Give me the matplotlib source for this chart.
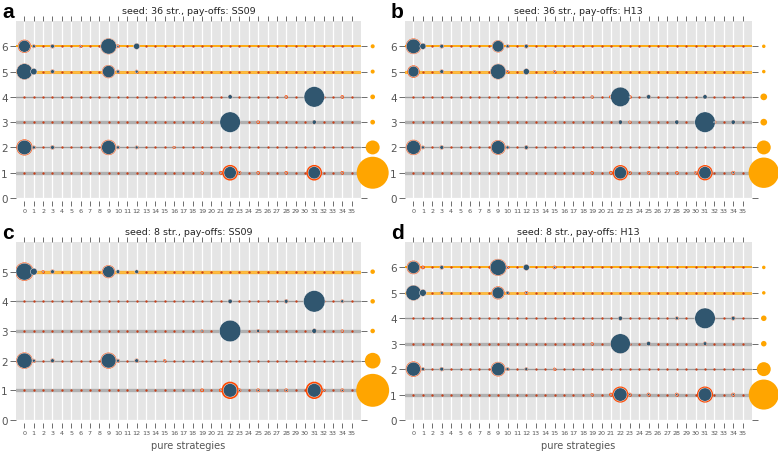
import numpy as np
import matplotlib.pyplot as plt

strategies = list(range(36))

# panel a: seed 36 strategies, SS09
a_title = "seed: 36 str., pay-offs: SS09"
a_orange_rows = [5, 6]
a_line_w = [2.4, 1.0, 2.4, 1.0, 2.2, 1.3]          # rows 1..6
a_right = [1.0, 0.19, 0.022, 0.022, 0.016, 0.016]  # rows 1..6
a_row = [6, 6, 6, 6, 6, 6, 6,
         5, 5, 5, 5, 5, 5,
         4, 4, 4, 4,
         3, 3, 3, 3,
         2, 2, 2, 2, 2, 2, 2,
         1, 1, 1, 1, 1, 1, 1, 1]
a_str = [0, 1, 3, 6, 9, 10, 12,
         0, 1, 3, 9, 10, 12,
         22, 28, 31, 34,
         19, 22, 25, 31,
         0, 1, 3, 9, 10, 12, 16,
         19, 21, 22, 23, 25, 28, 31, 34]
a_blue = [0.30, 0.02, 0.03, 0.005, 0.52, 0.01, 0.08,
          0.54, 0.09, 0.03, 0.32, 0.02, 0.02,
          0.04, 0.005, 0.91, 0.005,
          0.005, 0.91, 0.005, 0.04,
          0.45, 0.02, 0.03, 0.42, 0.02, 0.02, 0.005,
          0.005, 0.005, 0.33, 0.01, 0.005, 0.005, 0.33, 0.005]
a_red = [0.38, 0.03, 0.04, 0.02, 0.56, 0.03, 0.08,
         0.56, 0.08, 0.04, 0.38, 0.03, 0.03,
         0.04, 0.025, 0.80, 0.025,
         0.02, 0.80, 0.025, 0.04,
         0.56, 0.03, 0.04, 0.51, 0.03, 0.03, 0.02,
         0.02, 0.03, 0.53, 0.03, 0.025, 0.025, 0.53, 0.025]

# panel b: seed 36 strategies, H13
b_title = "seed: 36 str., pay-offs: H13"
b_orange_rows = [5, 6]
b_line_w = [2.4, 1.0, 2.4, 1.0, 2.2, 1.3]
b_right = [0.9, 0.19, 0.044, 0.044, 0.012, 0.012]
b_row = [6, 6, 6, 6, 6, 6,
         5, 5, 5, 5, 5, 5,
         4, 4, 4, 4, 4, 4,
         3, 3, 3, 3, 3, 3,
         2, 2, 2, 2, 2, 2,
         1, 1, 1, 1, 1, 1, 1, 1, 1]
b_str = [0, 1, 3, 9, 10, 12,
         0, 3, 9, 10, 12, 15,
         19, 21, 22, 23, 25, 31,
         22, 23, 28, 31, 32, 34,
         0, 1, 3, 9, 10, 12,
         19, 21, 22, 23, 25, 28, 30, 31, 34]
b_blue = [0.45, 0.08, 0.03, 0.28, 0.02, 0.03,
          0.25, 0.03, 0.50, 0.005, 0.08, 0.005,
          0.005, 0.005, 0.82, 0.005, 0.04, 0.04,
          0.04, 0.005, 0.04, 0.91, 0.005, 0.04,
          0.42, 0.02, 0.03, 0.40, 0.02, 0.03,
          0.005, 0.005, 0.33, 0.01, 0.005, 0.005, 0.005, 0.33, 0.01]
b_red = [0.53, 0.08, 0.04, 0.33, 0.03, 0.04,
         0.33, 0.04, 0.53, 0.02, 0.08, 0.02,
         0.02, 0.03, 0.75, 0.03, 0.04, 0.04,
         0.04, 0.02, 0.04, 0.80, 0.03, 0.04,
         0.51, 0.03, 0.04, 0.48, 0.03, 0.04,
         0.025, 0.03, 0.51, 0.03, 0.025, 0.025, 0.02, 0.51, 0.03]

# panel c: seed 8 strategies, SS09
c_title = "seed: 8 str., pay-offs: SS09"
c_orange_rows = [5]
c_line_w = [2.4, 1.0, 2.4, 1.0, 2.4]
c_right = [1.06, 0.24, 0.02, 0.02, 0.02]
c_row = [5, 5, 5, 5, 5, 5, 5,
         4, 4, 4, 4,
         3, 3, 3, 3, 3,
         2, 2, 2, 2, 2, 2, 2,
         1, 1, 1, 1, 1, 1, 1, 1, 1]
c_str = [0, 1, 2, 3, 9, 10, 12,
         22, 28, 31, 34,
         19, 22, 25, 31, 34,
         0, 1, 3, 9, 10, 12, 15,
         19, 21, 22, 23, 25, 28, 31, 32, 34]
c_blue = [0.62, 0.10, 0.005, 0.03, 0.30, 0.03, 0.03,
          0.04, 0.03, 1.0, 0.02,
          0.01, 1.0, 0.02, 0.05, 0.005,
          0.50, 0.02, 0.03, 0.47, 0.02, 0.03, 0.005,
          0.005, 0.005, 0.40, 0.01, 0.01, 0.01, 0.40, 0.005, 0.01]
c_red = [0.73, 0.10, 0.02, 0.04, 0.37, 0.03, 0.03,
         0.04, 0.04, 0.90, 0.03,
         0.02, 0.90, 0.03, 0.05, 0.02,
         0.58, 0.03, 0.04, 0.56, 0.03, 0.04, 0.02,
         0.03, 0.03, 0.65, 0.03, 0.03, 0.03, 0.65, 0.02, 0.03]

# panel d: seed 8 strategies, H13
d_title = "seed: 8 str., pay-offs: H13"
d_orange_rows = [5, 6]
d_line_w = [2.4, 1.0, 2.4, 1.0, 2.0, 1.3]
d_right = [0.88, 0.19, 0.03, 0.03, 0.012, 0.012]
d_row = [6, 6, 6, 6, 6, 6, 6,
         5, 5, 5, 5, 5, 5,
         4, 4, 4, 4,
         3, 3, 3, 3,
         2, 2, 2, 2, 2, 2, 2,
         1, 1, 1, 1, 1, 1, 1, 1]
d_str = [0, 1, 3, 9, 10, 12, 15,
         0, 1, 3, 9, 10, 12,
         22, 28, 31, 34,
         19, 22, 25, 31,
         0, 1, 3, 9, 10, 12, 15,
         19, 21, 22, 23, 25, 28, 31, 34]
d_blue = [0.32, 0.005, 0.03, 0.55, 0.005, 0.08, 0.01,
          0.50, 0.10, 0.02, 0.30, 0.02, 0.01,
          0.04, 0.02, 0.91, 0.03,
          0.005, 0.85, 0.04, 0.03,
          0.42, 0.02, 0.03, 0.38, 0.02, 0.02, 0.005,
          0.005, 0.005, 0.38, 0.01, 0.01, 0.01, 0.38, 0.01]
d_red = [0.40, 0.03, 0.04, 0.63, 0.02, 0.08, 0.03,
         0.51, 0.10, 0.03, 0.37, 0.03, 0.03,
         0.04, 0.03, 0.82, 0.04,
         0.02, 0.80, 0.04, 0.04,
         0.51, 0.03, 0.04, 0.46, 0.03, 0.03, 0.02,
         0.02, 0.03, 0.56, 0.03, 0.03, 0.03, 0.56, 0.03]

# styling
BLUE = '#30566f'
RED = '#ff4800'
ORANGE = '#ffa500'
GRAYLINE = '#b0b0b0'
TICKC = '#555555'
BG = '#e5e5e5'
PT_SCALE = 240      # marker area (pt^2) for share 1.0
RIGHT_SCALE = 531   # marker area for the right-hand circles
FAINT = 0.012

fig = plt.figure(figsize=(7.78, 4.52), dpi=100)

boxes = [
    [0.0206, 0.5597, 0.4434, 0.3916],
    [0.5206, 0.5597, 0.4460, 0.3916],
    [0.0206, 0.0686, 0.4434, 0.3938],
    [0.5206, 0.0686, 0.4460, 0.3938],
]
panels = [
    ('a', a_title, 6, a_orange_rows, a_line_w, a_right, a_row, a_str, a_blue, a_red),
    ('b', b_title, 6, b_orange_rows, b_line_w, b_right, b_row, b_str, b_blue, b_red),
    ('c', c_title, 5, c_orange_rows, c_line_w, c_right, c_row, c_str, c_blue, c_red),
    ('d', d_title, 6, d_orange_rows, d_line_w, d_right, d_row, d_str, d_blue, d_red),
]

for box, (letter, title, nrows, orange_rows, line_w, right, prow, pstr, pblue, pred) in zip(boxes, panels):
    ax = fig.add_axes(box, facecolor=BG)
    for s in ax.spines.values():
        s.set_visible(False)
    ax.spines['bottom'].set_position(('outward', 2))

    ax.set_xticks(strategies)
    ax.set_yticks(range(nrows + 1))
    ax.grid(True, color='white', linewidth=0.9, zorder=0)
    ax.set_axisbelow(True)

    rows = np.arange(1, nrows + 1)
    for r, lw in zip(rows, line_w):
        if r in orange_rows:
            ax.axhline(r, color=ORANGE, lw=lw, alpha=0.75 if lw > 1.5 else 1.0, zorder=1)
        else:
            ax.axhline(r, color=GRAYLINE if lw > 1.5 else '#9a9a9a', lw=lw, zorder=1)
        # faint dots at every strategy
        ax.scatter(strategies, [r] * len(strategies), s=FAINT * PT_SCALE,
                   color='#c8401a', linewidths=0, zorder=2)

    prow = np.array(prow)
    pstr = np.array(pstr)
    ax.scatter(pstr, prow, s=np.array(pred) * PT_SCALE, color=RED, linewidths=0, zorder=3)
    ax.scatter(pstr, prow, s=np.array(pblue) * PT_SCALE, color=BLUE,
               edgecolors='white', linewidths=0.3, zorder=4)

    # frequency circles at the right side
    ax.scatter([37.25] * nrows, rows, s=np.array(right) * RIGHT_SCALE, color=ORANGE,
               linewidths=0, clip_on=False, zorder=5)

    ax.set_xlim(-0.9, 36)
    ax.set_ylim(0, nrows + 1)

    ax.tick_params(axis='x', which='both', direction='out', length=3.5, width=0.6,
                   color=TICKC, top=True, bottom=True, labeltop=False,
                   labelsize=4.6, labelcolor=TICKC, pad=2)
    ax.tick_params(axis='y', which='both', direction='out', length=4, width=0.6,
                   color=TICKC, left=True, right=True, labelright=False,
                   labelsize=7.5, labelcolor=TICKC, pad=2)

    ax.set_title(title, fontsize=6.8, pad=6, color='#222222')
    if letter in ('c', 'd'):
        ax.set_xlabel('pure strategies', fontsize=7, color=TICKC, labelpad=3)

    fig.text(box[0] - 0.018, box[1] + box[3] + 0.043, letter, fontsize=15,
             fontweight='bold', family='Liberation Sans', va='top', ha='left')

fig.savefig('out.png', dpi=100)
